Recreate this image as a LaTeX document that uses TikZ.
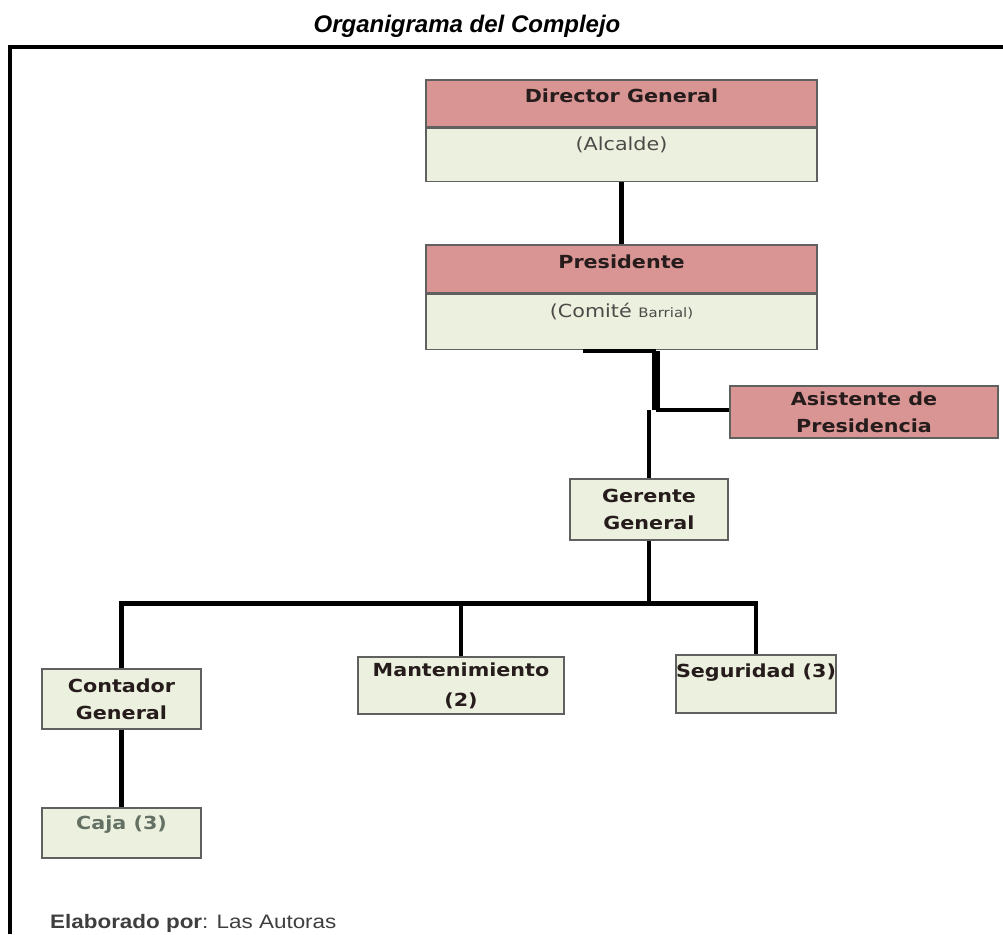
\documentclass[tikz,border=0pt]{standalone}
\usepackage{fontspec}
\setmainfont{DejaVu Sans}
\newfontfamily\boxfont[FakeStretch=1.15]{DejaVu Sans}
\newfontfamily\titlefont{Liberation Sans}
\newfontfamily\footfont[FakeStretch=1.15]{Liberation Sans}
\usetikzlibrary{positioning}
\definecolor{orgpink}{RGB}{217,149,148}
\definecolor{orggreen}{RGB}{235,241,222}
\definecolor{orgedge}{RGB}{96,96,96}
\definecolor{orgtext}{RGB}{38,28,28}
\definecolor{orgsoft}{RGB}{78,74,72}
\definecolor{orgcaja}{RGB}{100,112,100}
\definecolor{orgfoot}{RGB}{62,62,62}
\begin{document}
\begin{tikzpicture}[x=1pt,y=-1pt,
    every node/.style={align=center,inner sep=0pt,text=orgtext},
    orgbox/.style={draw=orgedge,line width=1.4pt,font=\boxfont\bfseries\fontsize{18}{27}\selectfont},
    pinkbox/.style={orgbox,fill=orgpink},
    greenbox/.style={orgbox,fill=orggreen},
    softtext/.style={font=\boxfont\mdseries\fontsize{18}{27}\selectfont,text=orgsoft},
    link/.style={line width=4.5pt,black}]
    \useasboundingbox (0,0) rectangle (1003,934);
    \node[anchor=base,font=\titlefont\bfseries\itshape\fontsize{24}{28}\selectfont,text=black] (title) at (467,33) {Organigrama del Complejo};
    \coordinate (ftr) at (1003,47);
    \coordinate (ftl) at (10,47);
    \coordinate (fbl) at (10,934);
    \draw[line width=4pt] (ftr) -- (ftl) -- (fbl);
    \node[pinkbox,minimum width=391pt,minimum height=47pt,text height=22pt,text depth=25pt] (dirA) at (621.5,103.5) {Director General};
    \node[greenbox,softtext,below=0pt of dirA,minimum width=391pt,minimum height=53pt,text height=22.5pt,text depth=30.5pt] (dirB) {(Alcalde)};
    \node[pinkbox,minimum width=391pt,minimum height=48pt,text height=23pt,text depth=25pt] (preA) at (621.5,269) {Presidente};
    \node[greenbox,softtext,below=0pt of preA,minimum width=391pt,minimum height=55pt,text height=23pt,text depth=32pt] (preB) {(Comité {\fontsize{13}{16}\selectfont Barrial)}};
    \node[pinkbox,minimum width=268pt,minimum height=52pt] (asi) at (864,412) {Asistente de\\Presidencia};
    \node[greenbox,minimum width=158pt,minimum height=61pt] (ger) at (649,509.5) {Gerente\\General};
    \node[greenbox,minimum width=159pt,minimum height=60pt] (con) at (121.5,699) {Contador\\General};
    \node[greenbox,minimum width=206pt,minimum height=57pt] (man) at (461,685.5) {Mantenimiento\\[3pt](2)};
    \node[greenbox,minimum width=160pt,minimum height=58pt,text height=22pt,text depth=36pt] (seg) at (756,684) {Seguridad (3)};
    \node[greenbox,minimum width=159pt,minimum height=50pt,text height=21pt,text depth=29pt,text=orgcaja] (caja) at (121.5,833) {Caja (3)};
    \coordinate (pl) at (583,351);
    \coordinate (pj) at (656,351);
    \coordinate (aj) at (656,410);
    \coordinate (bus) at (0,603.5);
    \draw[link] (dirB) -- (preA);
    \draw[link] (pl) -- (pj);
    \draw[link,line width=8pt] (pj) -- (aj);
    \draw[link] (aj) -- (asi.west |- aj);
    \draw[link] (ger.north |- aj) -- (ger);
    \draw[link] (ger) -- (ger.south |- bus);
    \draw[link] (con) -- (con.north |- bus) -- (seg.north |- bus) -- (seg);
    \draw[link] (man.north |- bus) -- (man);
    \draw[link] (con) -- (caja);
    \node[anchor=base west,font=\footfont\fontsize{19.5}{22}\selectfont,text=orgfoot] (foot) at (50,928.5) {\textbf{Elaborado por}: Las Autoras};
\end{tikzpicture}
\end{document}
